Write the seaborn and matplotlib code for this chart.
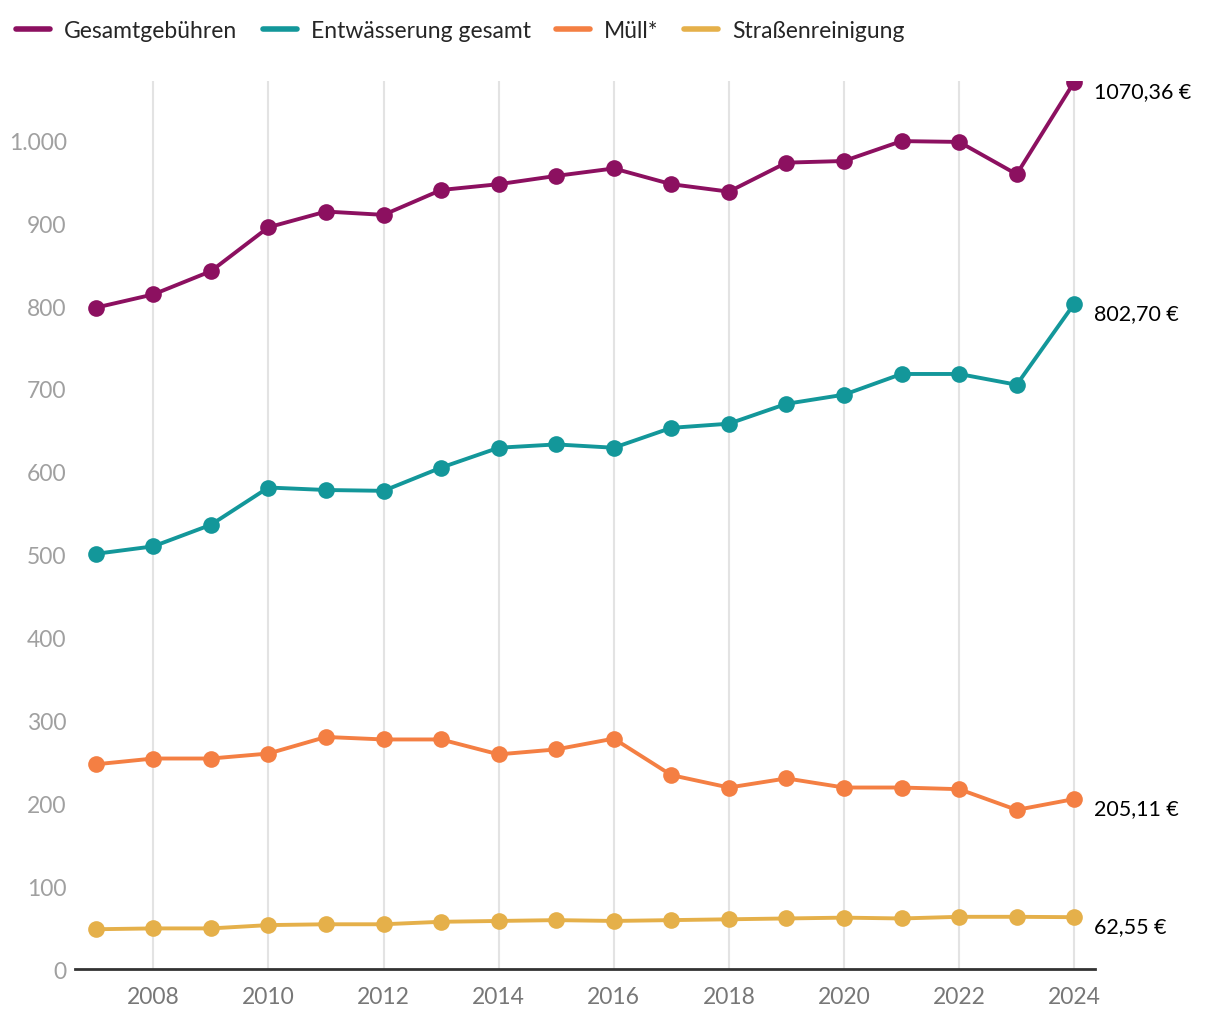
import pandas as pd
import matplotlib.pyplot as plt
import seaborn as sns
from matplotlib.lines import Line2D

years = list(range(2007, 2025))
gesamt = [798, 814, 842, 895, 914, 910, 940, 947, 957, 966, 947, 938, 973, 975, 999, 998, 959, 1070.36]
entwaesserung = [501, 510, 536, 581, 578, 577, 605, 629, 633, 629, 653, 658, 682, 693, 718, 718, 705, 802.70]
muell = [247, 254, 254, 260, 280, 277, 277, 259, 265, 278, 234, 219, 230, 219, 219, 217, 192, 205.11]
strasse = [48, 49, 49, 53, 54, 54, 57, 58, 59, 58, 59, 60, 61, 62, 61, 63, 63, 62.55]

series_names = ["Gesamtgebühren", "Entwässerung gesamt", "Müll*", "Straßenreinigung"]
colors = ["#8c1060", "#13979a", "#f47f43", "#e5b04a"]
end_labels = ["1070,36 €", "802,70 €", "205,11 €", "62,55 €"]

df = pd.DataFrame({
    "Jahr": years * 4,
    "Wert": gesamt + entwaesserung + muell + strasse,
    "Serie": [n for n in series_names for _ in years],
})

sns.set_style("white")
plt.rcParams['font.family'] = ['Lato', 'DejaVu Sans']

fig = plt.figure(figsize=(12.2, 10.2), dpi=100)
ax = fig.add_axes([0.0615, 0.049, 0.836, 0.871])

sns.lineplot(data=df, x="Jahr", y="Wert", hue="Serie", hue_order=series_names,
             palette=colors, marker="o", markersize=12, markeredgewidth=0,
             linewidth=2.8, legend=False, ax=ax, zorder=3)

ax.set_xlim(2006.64, 2024.36)
ax.set_ylim(0, 1072)
ax.set_xticks(range(2008, 2025, 2))
ax.set_yticks(range(0, 1001, 100))
ax.set_yticklabels([f"{v:,}".replace(",", ".") for v in range(0, 1001, 100)])
ax.tick_params(axis='x', colors='#777777', labelsize=16.5, length=0, pad=12)
ax.tick_params(axis='y', colors='#a0a0a0', labelsize=16.5, length=0, pad=6)
ax.set_xlabel("")
ax.set_ylabel("")

ax.grid(axis='x', color='#e3e3e3', linewidth=1.5)
for s in ["top", "right", "left"]:
    ax.spines[s].set_visible(False)
ax.spines["bottom"].set_color("#333333")
ax.spines["bottom"].set_linewidth(2)

last = [gesamt[-1], entwaesserung[-1], muell[-1], strasse[-1]]
for val, lab in zip(last, end_labels):
    ax.annotate(lab, (years[-1], val), xytext=(14, -6.5), textcoords="offset points",
                fontsize=15.5, color="black", va="center", ha="left", annotation_clip=False)

handles = [Line2D([0], [0], color=c, linewidth=4) for c in colors]
fig.legend(handles, series_names, loc="upper left", bbox_to_anchor=(0.0, 0.995),
           ncol=4, frameon=False, fontsize=16.5, handlelength=1.5, handletextpad=0.6,
           columnspacing=1.1, borderaxespad=0.3)

plt.savefig("out.png", dpi=100)
